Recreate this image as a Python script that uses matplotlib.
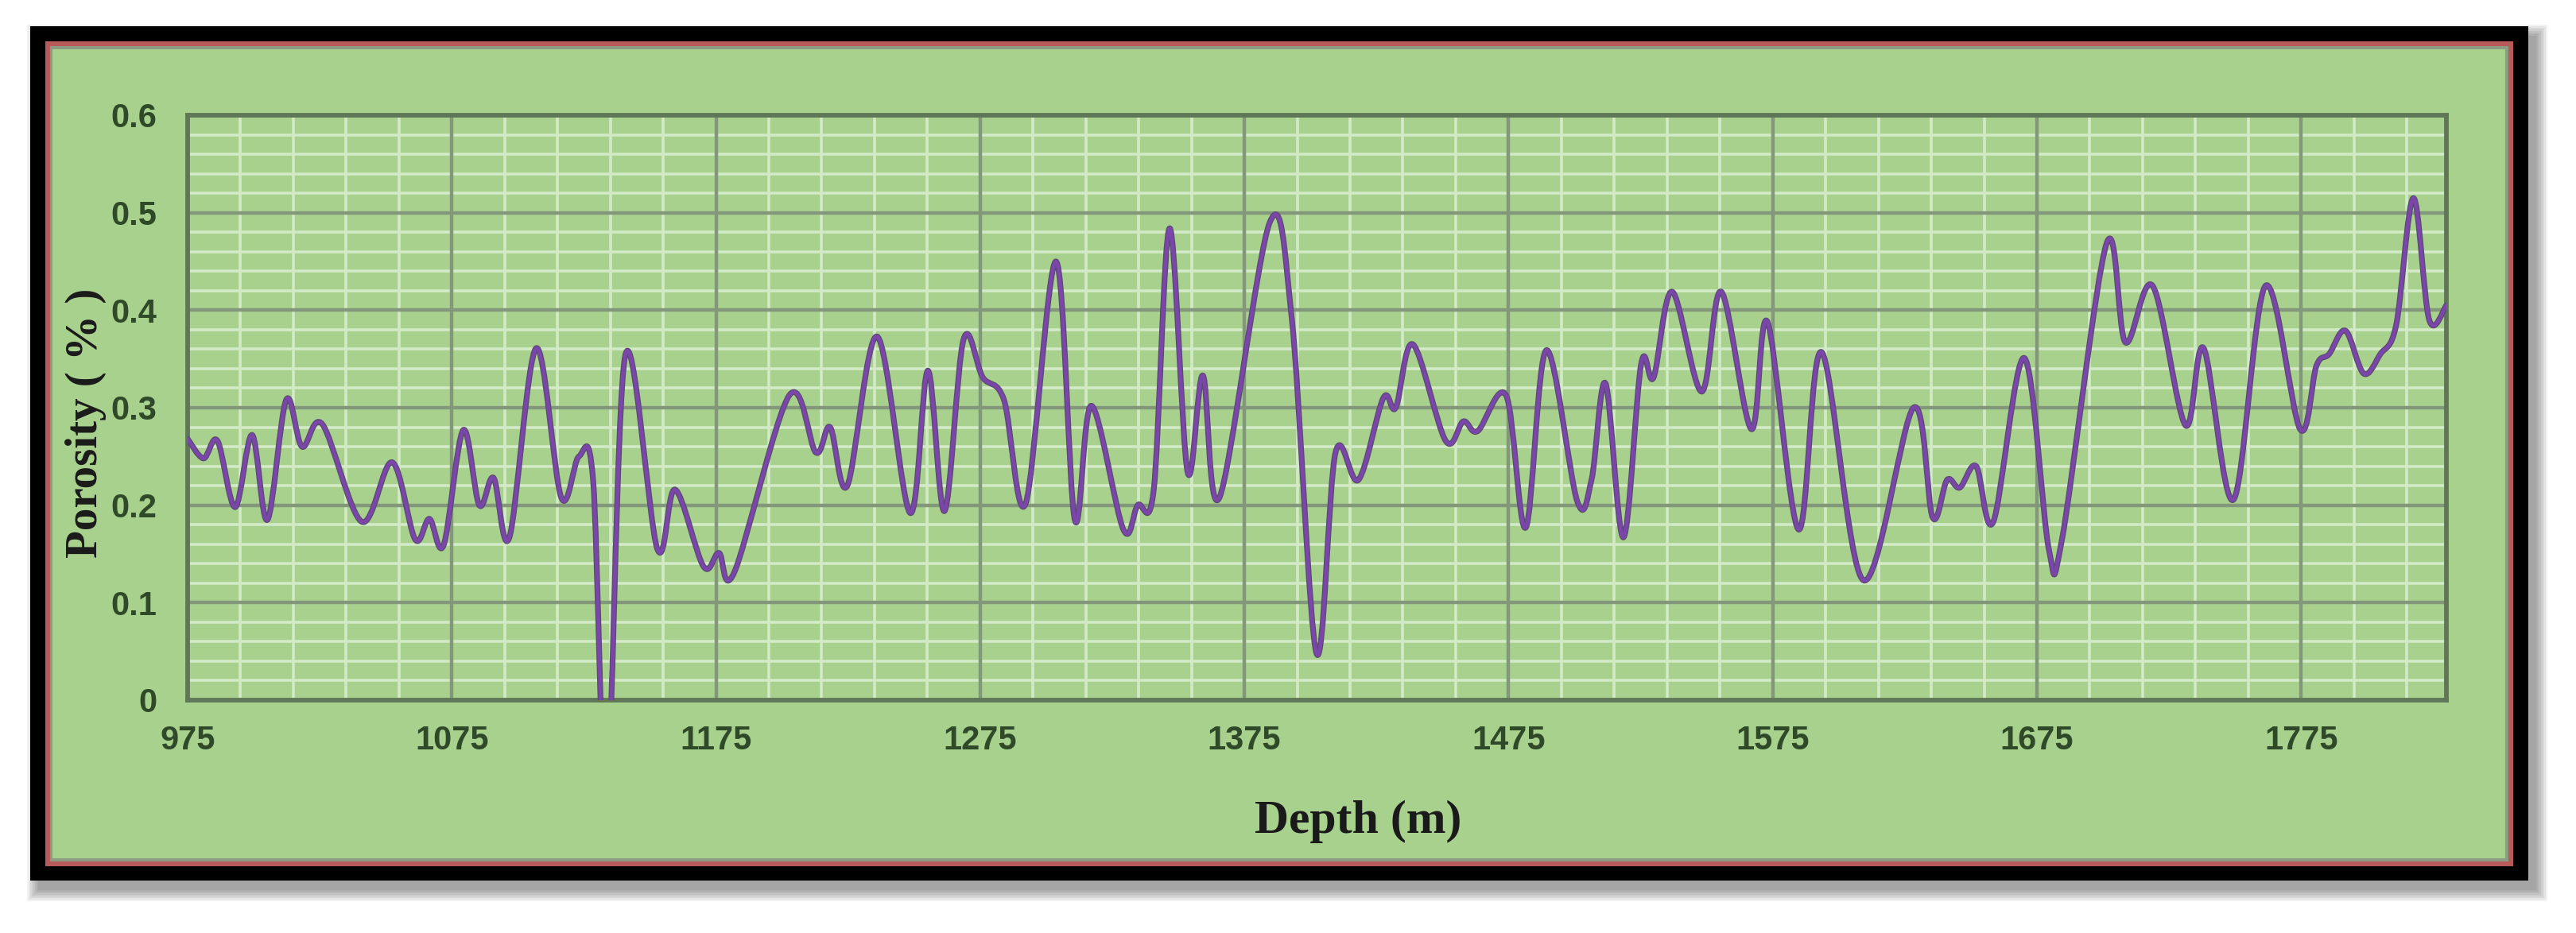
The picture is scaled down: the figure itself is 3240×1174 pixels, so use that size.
import matplotlib
matplotlib.use("Agg")
import matplotlib.pyplot as plt
from matplotlib.path import Path
from matplotlib.patches import PathPatch, Rectangle
import matplotlib.patheffects as pe
from matplotlib import font_manager
from matplotlib.ticker import MultipleLocator, FixedLocator, FixedFormatter
import numpy as np

# ---------------- data ----------------
depth = [975, 981, 986.3, 993, 999.4, 1005.2, 1012.3, 1018.3, 1026, 1040.9,
         1052.4, 1061.1, 1066.5, 1071.9, 1079.3, 1085.4, 1090.8, 1096.8, 1106.9, 1116.4,
         1123.1, 1128.5, 1133.6, 1140.6, 1152.8, 1159.5, 1170.3, 1176.1, 1181.9, 1202.7,
         1212.8, 1218.2, 1224.7, 1236, 1248.5, 1255.2, 1261.5, 1268.7, 1276, 1284,
         1292.2, 1303.7, 1310.8, 1317.1, 1329.2, 1334.6, 1340.7, 1346.7, 1353.5, 1359.3,
         1365.6, 1384.6, 1393, 1402.3, 1409.5, 1418.2, 1427.6, 1432.3, 1438.8, 1451.2,
         1457.9, 1463.3, 1474.1, 1481.5, 1489.3, 1501, 1506.4, 1511.7, 1518.5, 1525.2,
         1529.9, 1536.9, 1548.1, 1555.5, 1566.9, 1573, 1584.8, 1593.5, 1609.3, 1628.3,
         1635.5, 1641, 1645.8, 1652, 1658.5, 1670.2, 1679.5, 1684.5, 1701.3, 1708.5,
         1718.8, 1731.2, 1738.1, 1749.4, 1761.5, 1774.6, 1780.8, 1785.6, 1791.8, 1798.7,
         1805, 1811, 1817.5, 1823.5, 1830]
porosity = [0.268, 0.248, 0.266, 0.198, 0.272, 0.185, 0.308, 0.260, 0.283, 0.183,
            0.244, 0.165, 0.186, 0.159, 0.277, 0.200, 0.228, 0.167, 0.361, 0.208,
            0.250, 0.225, -0.10, 0.353, 0.155, 0.216, 0.137, 0.151, 0.131, 0.3125,
            0.254, 0.280, 0.220, 0.373, 0.192, 0.338, 0.194, 0.370, 0.331, 0.308,
            0.2016, 0.450, 0.185, 0.302, 0.175, 0.200, 0.216, 0.484, 0.234, 0.333,
            0.208, 0.490, 0.390, 0.048, 0.254, 0.226, 0.310, 0.300, 0.365, 0.266,
            0.286, 0.276, 0.3125, 0.177, 0.359, 0.204, 0.226, 0.325, 0.167, 0.345,
            0.331, 0.419, 0.3165, 0.419, 0.278, 0.388, 0.175, 0.357, 0.123, 0.300,
            0.1875, 0.226, 0.218, 0.240, 0.183, 0.351, 0.155, 0.165, 0.468, 0.367,
            0.425, 0.282, 0.361, 0.2056, 0.425, 0.278, 0.343, 0.355, 0.379, 0.335,
            0.355, 0.385, 0.515, 0.390, 0.405]

x_ticks = [975, 1075, 1175, 1275, 1375, 1475, 1575, 1675, 1775]
y_ticks = [0, 0.1, 0.2, 0.3, 0.4, 0.5, 0.6]
y_tick_labels = ["0", "0.1", "0.2", "0.3", "0.4", "0.5", "0.6"]
x_label = "Depth (m)"
y_label = "Porosity ( % )"

# ---------------- styling ----------------
W, H = 3241, 1174
DPI = 100
GREEN = "#a9d18e"
MAJOR = "#83977a"
MINOR = "#d3eac6"
TICKC = "#2f4a29"

avail = {f.name for f in font_manager.fontManager.ttflist}
if "Liberation Sans Narrow" in avail:
    tick_font, tick_size = "Liberation Sans Narrow", 35
else:
    tick_font, tick_size = "Liberation Sans", 30
serif = "Liberation Serif"

fig = plt.figure(figsize=(W / DPI, H / DPI), dpi=DPI, facecolor="white")


def fx(px):
    return px / W


def fy(py):
    return 1 - py / H


def frect(x0, y0, x1, y1, **kw):
    r = Rectangle((fx(x0), fy(y1)), fx(x1) - fx(x0), fy(y0) - fy(y1),
                  transform=fig.transFigure, **kw)
    fig.add_artist(r)
    return r


# soft shadow (bottom / right)
for e in range(0, 16, 2):
    frect(38 + 10 - e, 33 + 12 - e, 3180 + 10 + e, 1108 + 12 + e,
          facecolor="black", edgecolor="none", alpha=0.05, zorder=-20)
# black frame, red line, green chart area
frect(38, 33, 3180, 1108, facecolor="black", edgecolor="none", zorder=-19)
frect(57, 52, 3161, 1090, facecolor="#b8595a", edgecolor="none", zorder=-18)
frect(63, 58, 3155, 1084, facecolor="#8c9c82", edgecolor="none", zorder=-17)
frect(66, 62, 3151, 1080, facecolor=GREEN, edgecolor="none", zorder=-16)

# axes (plot area)
ax = fig.add_axes([fx(236), fy(881), fx(3077) - fx(236), fy(145) - fy(881)])
ax.set_facecolor(GREEN)
ax.set_xlim(975, 1830)
ax.set_ylim(0, 0.6)

ax.xaxis.set_major_locator(FixedLocator(x_ticks))
ax.xaxis.set_major_formatter(FixedFormatter([str(v) for v in x_ticks]))
ax.xaxis.set_minor_locator(MultipleLocator(20, offset=15))
ax.yaxis.set_major_locator(FixedLocator(y_ticks))
ax.yaxis.set_major_formatter(FixedFormatter(y_tick_labels))
ax.yaxis.set_minor_locator(MultipleLocator(0.02))

# minor (white) grid below, major (dark) grid drawn on top of it
ax.set_axisbelow(True)
ax.grid(which="minor", color=MINOR, linewidth=2.6)
ax.grid(which="major", visible=False)
for xv in x_ticks:
    ax.axvline(xv, color=MAJOR, linewidth=3.2, zorder=1)
for yv in y_ticks:
    ax.axhline(yv, color=MAJOR, linewidth=3.2, zorder=1)

ax.tick_params(which="both", length=0)
ax.tick_params(axis="x", pad=22, labelsize=tick_size, labelcolor=TICKC)
ax.tick_params(axis="y", pad=28, labelsize=tick_size, labelcolor=TICKC)
for lab in ax.get_xticklabels() + ax.get_yticklabels():
    lab.set_fontfamily(tick_font)
    lab.set_fontweight("bold")

for sp in ax.spines.values():
    sp.set_color("#5f7757")
    sp.set_linewidth(4.2)
    sp.set_zorder(2)

# smoothed line (Excel-style smoothing rendered as cubic Bezier path)
pts = np.column_stack([depth, porosity]).astype(float)
n = len(pts)
verts = [tuple(pts[0])]
codes = [Path.MOVETO]
for i in range(n - 1):
    p0 = pts[i - 1] if i > 0 else pts[i]
    p1 = pts[i]
    p2 = pts[i + 1]
    p3 = pts[i + 2] if i + 2 < n else pts[i + 1]
    c1 = p1 + (p2 - p0) / 6.0
    c2 = p2 - (p3 - p1) / 6.0
    verts += [tuple(c1), tuple(c2), tuple(p2)]
    codes += [Path.CURVE4] * 3
patch = PathPatch(Path(verts, codes), facecolor="none", edgecolor="#7b46aa",
                  linewidth=3.4, zorder=3, capstyle="round", joinstyle="round")
patch.set_path_effects([pe.Stroke(linewidth=5.2, foreground="#5a4a70"), pe.Normal()])
ax.add_patch(patch)

# axis titles
fig.text(fx(1708), fy(1034), x_label, family=serif, weight="bold", fontsize=43,
         color="#1a1a1a", ha="center", va="center")
fig.text(fx(108), fy(532), y_label, family=serif, weight="bold", fontsize=41,
         color="#1a1a1a", ha="center", va="center", rotation=90)

fig.savefig("out.png", dpi=DPI, facecolor="white")
